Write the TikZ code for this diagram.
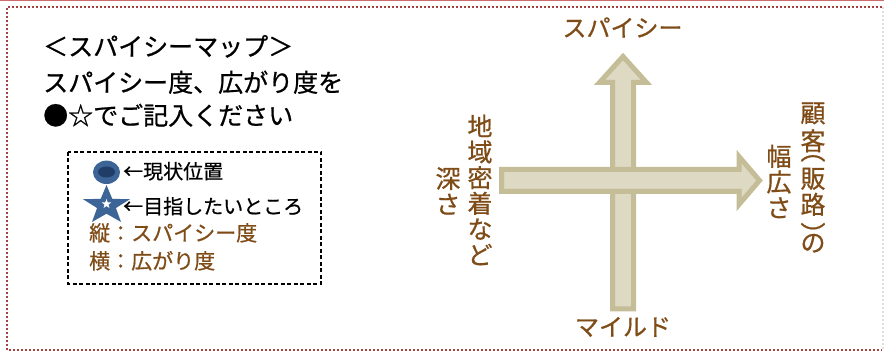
\documentclass[tikz,border=0pt]{standalone}
\usepackage{fontspec}
\setmainfont{Noto Sans CJK JP}[FakeBold=0.7]
\usetikzlibrary{shapes.geometric}
\definecolor{brownT}{HTML}{7F4C18}
\definecolor{topRed}{HTML}{CF6A6A}
\definecolor{dotRed}{HTML}{A5423F}
\definecolor{arrowLine}{HTML}{C4BD97}
\definecolor{arrowFill}{HTML}{DDD9C3}
\definecolor{markBlue}{HTML}{3D6496}
\definecolor{markDark}{HTML}{1F3D66}
\tikzset{
  txt/.style={inner sep=0pt, text height=0.88em, text depth=0.12em},
  bigtxt/.style={txt, anchor=west, font=\fontsize{25}{25}\selectfont},
  legtxt/.style={txt, anchor=west, font=\fontsize{20}{20}\selectfont},
  axtxt/.style={txt, text=brownT, font=\fontsize{24}{24}\selectfont},
  vch/.style={txt, text=brownT, font=\fontsize{25}{25}\selectfont},
  vcol/.style={inner sep=0pt, align=center, text=brownT, font=\fontsize{25}{25.7}\selectfont},
  bigarrow/.style={draw=arrowLine, fill=arrowFill, line width=5pt, line join=miter},
  border/.style={dotRed, line width=2pt, dash pattern=on 2pt off 2pt}
}
\begin{document}
\begin{tikzpicture}[x=1pt,y=-1pt]
\useasboundingbox (0,0) rectangle (884,352);
% frame
\draw[topRed, line width=1.5pt] (0,0.75) -- (884,0.75);
\draw[border] (882,7.5) -- (7,7.5) -- (7,350.5) -- (882,350.5);
\draw[black!12, line width=1.5pt, dash pattern=on 2pt off 2pt] (883,7.5) -- (883,350.5);
% title text
\node[bigtxt] (t1) at (43,52) {＜スパイシーマップ＞};
\node[bigtxt] (t2) at (43,88) {スパイシー度、広がり度を};
\node[bigtxt] (t3) at (43,121) {●☆でご記入ください};
% legend box
\draw[black, line width=1.4pt, dash pattern=on 4pt off 2.5pt] (68,152) rectangle (321,284);
\fill[markBlue] (106.5,185.05) -- (100.68,198.87) -- (83.01,199.18) -- (97.08,208.03) -- (91.98,222.04)
  -- (106.5,213.7) -- (121.02,222.04) -- (115.92,208.03) -- (129.99,199.18) -- (112.32,198.87) -- cycle;
\node (wstar) [star, star points=5, star point ratio=2.4, fill=white, minimum size=10pt, inner sep=0pt] at (106.5,204) {};
\fill[markBlue] (106.5,172.3) ellipse [x radius=13.5, y radius=11.7];
\fill[markDark] (106.5,172) ellipse [x radius=8.5, y radius=5.5];
\node[legtxt] (l1) at (123,175) {←現状位置};
\node[legtxt] (l2) at (123,210) {←目指したいところ};
\node[legtxt, text=brownT, font=\fontsize{21}{21}\selectfont] (l3) at (89,237) {縦：スパイシー度};
\node[legtxt, text=brownT, font=\fontsize{21}{21}\selectfont] (l4) at (89,265) {横：広がり度};
% arrows
\draw[bigarrow] (612.5,309) -- (612.5,82.5) -- (599.5,82.5) -- (623,56.5) -- (646.5,82.5) -- (633.5,82.5) -- (633.5,309) -- cycle;
\draw[bigarrow] (501.5,169.5) -- (739,169.5) -- (739,156.5) -- (759.5,180.5) -- (739,204.5) -- (739,191.5) -- (501.5,191.5) -- cycle;
% axis labels
\node[axtxt] (top) at (622.5,33) {スパイシー};
\node[axtxt] (bot) at (623,332) {マイルド};
\node[vcol] (lc1) at (480,190) {地\\域\\密\\着\\な\\ど};
\node[vcol] (lc2) at (448,191) {深\\さ};
\node[vch] (r1) at (813,118.5) {顧};
\node[vch] (r2) at (813,146.5) {客};
\node[vch] (r3) at (813,156) {︵};
\node[vch] (r4) at (813,184) {販};
\node[vch] (r5) at (813,210) {路};
\node[vch] (r6) at (813,240) {︶};
\node[vch] (r7) at (813,248) {の};
\node[vcol] (rc2) at (779,181.5) {幅\\広\\さ};
\end{tikzpicture}
\end{document}
